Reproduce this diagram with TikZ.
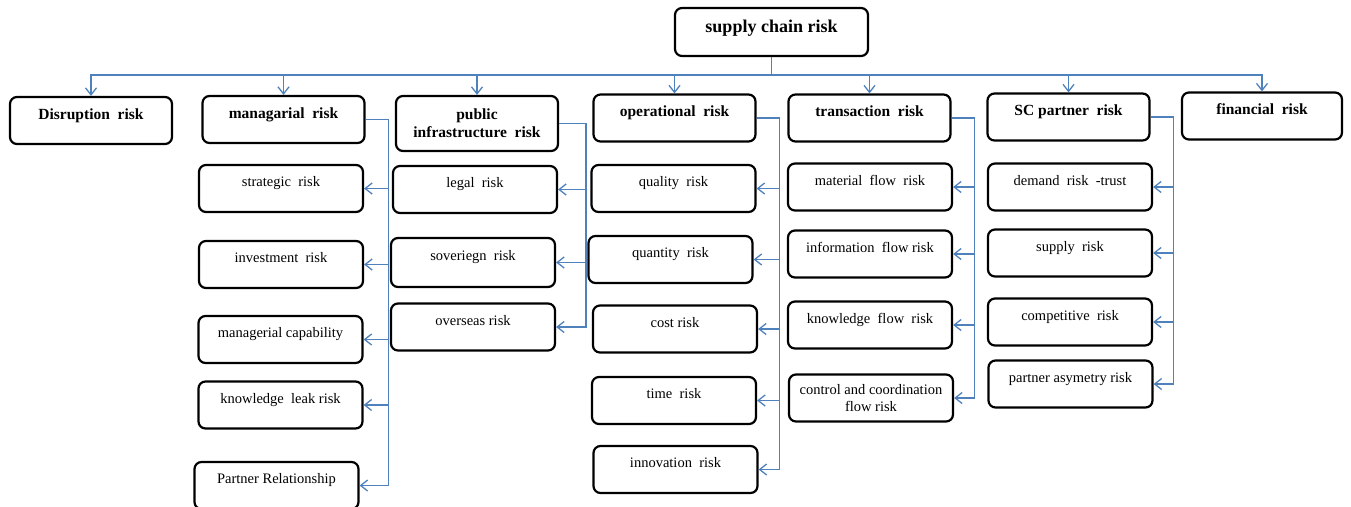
\documentclass[tikz,border=0pt]{standalone}
\usepackage{fontspec}
\setmainfont{Liberation Serif}
\usetikzlibrary{arrows.meta}
\definecolor{linkblue}{HTML}{4F81BD}
\tikzset{
  riskbox/.style={draw=black,line width=2.2pt,rounded corners=7pt,align=center,inner sep=2pt},
  toprisk/.style={riskbox,minimum width=193pt,minimum height=48pt,font=\bfseries\fontsize{18pt}{21pt}\selectfont,text height=12pt,text depth=11pt},
  mainrisk/.style={riskbox,minimum width=162pt,minimum height=47pt,font=\bfseries\fontsize{15.5pt}{18pt}\selectfont,text height=11pt,text depth=14pt},
  subrisk/.style={riskbox,minimum width=164pt,minimum height=47pt,font=\fontsize{14.5pt}{16.5pt}\selectfont,text height=10pt,text depth=13.5pt},
  twoline/.style={text height={},text depth={}},
  link/.style={draw=linkblue,line width=1.3pt},
  linkarrow/.style={link,-{Straight Barb[length=7pt,width=11pt]}}
}
\begin{document}
\begin{tikzpicture}[x=1pt,y=-1pt]
  \useasboundingbox (0,0) rectangle (1351,506);
  \node [toprisk] (root) at (771.5,32) {supply chain risk};
  \node [mainrisk] (dis) at (91,120.5) {Disruption~ risk};
  \node [mainrisk] (man) at (283.5,119.5) {managarial~ risk};
  \node [mainrisk,twoline,minimum height=55pt] (pub) at (477,123.5) {public\\infrastructure~ risk};
  \node [mainrisk] (ope) at (674.5,118) {operational~ risk};
  \node [mainrisk] (tra) at (869.5,118) {transaction~ risk};
  \node [mainrisk] (scp) at (1068.5,117) {SC partner~ risk};
  \node [mainrisk,minimum width=160pt] (fin) at (1262,116) {financial~ risk};
  \node [subrisk] (strat) at (281,188.5) {strategic~ risk};
  \node [subrisk] (inv) at (281,264.5) {investment~ risk};
  \node [subrisk] (mcap) at (280.5,339.5) {managerial capability};
  \node [subrisk] (kleak) at (280.5,405) {knowledge~ leak risk};
  \node [subrisk] (prel) at (276.5,485.5) {Partner Relationship};
  \node [subrisk] (legal) at (475,189.5) {legal~ risk};
  \node [subrisk,minimum height=49pt] (sov) at (473,262.5) {soveriegn~ risk};
  \node [subrisk] (ovs) at (473,327) {overseas risk};
  \node [subrisk] (qual) at (673.5,188.5) {quality~ risk};
  \node [subrisk] (quan) at (670.5,259.5) {quantity~ risk};
  \node [subrisk] (cost) at (675,329) {cost risk};
  \node [subrisk] (time) at (674,400.5) {time~ risk};
  \node [subrisk] (innov) at (675.5,469.5) {innovation~ risk};
  \node [subrisk] (mat) at (870,187) {material~ flow~ risk};
  \node [subrisk] (info) at (870,254) {information~ flow risk};
  \node [subrisk] (kflow) at (870,325) {knowledge~ flow~ risk};
  \node [subrisk,twoline] (ctrl) at (871,398) {control and coordination\\flow risk};
  \node [subrisk] (dem) at (1070,187) {demand~ risk~ -trust};
  \node [subrisk] (sup) at (1070,253) {supply~ risk};
  \node [subrisk] (comp) at (1070,322) {competitive~ risk};
  \node [subrisk] (pasy) at (1070.5,384) {partner asymetry risk};
  \coordinate (bus) at (771.5,75);
  \draw [link] (root.south) -- (bus);
  \draw [linkarrow] (bus) -| (dis.north);
  \draw [linkarrow] (bus) -| (man.north);
  \draw [linkarrow] (bus) -| (pub.north);
  \draw [linkarrow] (bus) -| (ope.north);
  \draw [linkarrow] (bus) -| (tra.north);
  \draw [linkarrow] (bus) -| (scp.north);
  \draw [linkarrow] (bus) -| (fin.north);
  \draw [linkarrow] (man.east) -- ++(23,0) |- (strat.east);
  \draw [linkarrow] (man.east) -- ++(23,0) |- (inv.east);
  \draw [linkarrow] (man.east) -- ++(23,0) |- (mcap.east);
  \draw [linkarrow] (man.east) -- ++(23,0) |- (kleak.east);
  \draw [linkarrow] (man.east) -- ++(23,0) |- (prel.east);
  \draw [linkarrow] (pub.east) -- ++(27,0) |- (legal.east);
  \draw [linkarrow] (pub.east) -- ++(27,0) |- (sov.east);
  \draw [linkarrow] (pub.east) -- ++(27,0) |- (ovs.east);
  \draw [linkarrow] (ope.east) -- ++(23,0) |- (qual.east);
  \draw [linkarrow] (ope.east) -- ++(23,0) |- (quan.east);
  \draw [linkarrow] (ope.east) -- ++(23,0) |- (cost.east);
  \draw [linkarrow] (ope.east) -- ++(23,0) |- (time.east);
  \draw [linkarrow] (ope.east) -- ++(23,0) |- (innov.east);
  \draw [linkarrow] (tra.east) -- ++(23,0) |- (mat.east);
  \draw [linkarrow] (tra.east) -- ++(23,0) |- (info.east);
  \draw [linkarrow] (tra.east) -- ++(23,0) |- (kflow.east);
  \draw [linkarrow] (tra.east) -- ++(23,0) |- (ctrl.east);
  \draw [linkarrow] (scp.east) -- ++(23,0) |- (dem.east);
  \draw [linkarrow] (scp.east) -- ++(23,0) |- (sup.east);
  \draw [linkarrow] (scp.east) -- ++(23,0) |- (comp.east);
  \draw [linkarrow] (scp.east) -- ++(23,0) |- (pasy.east);
\end{tikzpicture}
\end{document}
